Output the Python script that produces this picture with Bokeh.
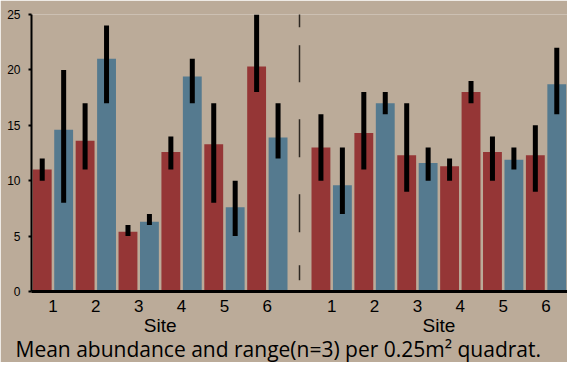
import numpy as np
from bokeh.plotting import figure
from bokeh.models import Range1d, FixedTicker, LinearAxis, Title, ColumnDataSource
from bokeh.embed import file_html
from bokeh.resources import INLINE

# ---------------- data ----------------
site_labels = ["1", "2", "3", "4", "5", "6"]

# left panel: two bars per site (red, blue)
left_series = ["red", "blue"] * 6
left_mean = [11.0, 14.6, 13.6, 21.0, 5.4, 6.3, 12.6, 19.4, 13.3, 7.6, 20.3, 13.9]
left_low = [10, 8, 11, 17, 5, 6, 11, 17, 8, 5, 18, 12]
left_high = [12, 20, 17, 24, 6, 7, 14, 21, 17, 10, 25, 17]

# right panel
right_series = ["red", "blue", "red", "blue", "red", "blue",
                "red", "red", "red", "blue", "red", "blue"]
right_mean = [13.0, 9.6, 14.3, 17.0, 12.3, 11.6, 11.3, 18.0, 12.6, 11.9, 12.3, 18.7]
right_low = [10, 7, 11, 16, 9, 10, 10, 17, 10, 11, 9, 16]
right_high = [16, 13, 18, 18, 17, 13, 12, 19, 14, 13, 15, 22]

y_ticks = [0, 5, 10, 15, 20, 25]
axis_title = "Site"
caption = "Mean abundance and range(n=3) per 0.25m\u00b2 quadrat."

# ---------------- styles ----------------
BG = "#bbab99"
COLORS = {"red": "#953636", "blue": "#557a8f"}

# slot positions: left bars in slots 0..11, gap slot 12, right bars 13..24
x_left = np.arange(12)
x_right = np.arange(13, 25)
xs = np.concatenate([x_left, x_right])

src = ColumnDataSource(dict(
    x=xs,
    top=left_mean + right_mean,
    low=left_low + right_low,
    high=left_high + right_high,
    color=[COLORS[s] for s in left_series + right_series],
))

p = figure(width=567, height=362, output_backend="svg", toolbar_location=None,
           x_range=Range1d(-0.5, 24.5), y_range=Range1d(0, 25),
           min_border_left=31, min_border_right=0, min_border_top=14,
           min_border_bottom=71,
           background_fill_color=BG, border_fill_color=BG,
           outline_line_color=None)
p.grid.visible = False

p.vbar(x="x", top="top", bottom=0, width=0.88, fill_color="color",
       line_color=None, source=src)
p.segment(x0="x", y0="low", x1="x", y1="high", line_color="black",
          line_width=5, line_cap="butt", source=src)

# dashed separator
p.segment(x0=[12], y0=[25.2], x1=[12], y1=[0.7], line_color="#2e2822",
          line_width=1.5, line_dash="15 18 37 37 38 37 38 33 15 60")

# x axis (site numbers)
pair_centers = [0.5, 2.5, 4.5, 6.5, 8.5, 10.5, 13.5, 15.5, 17.5, 19.5, 21.5, 23.5]
xa = p.xaxis[0]
xa.ticker = FixedTicker(ticks=pair_centers)
xa.major_label_overrides = {c: site_labels[i % 6] for i, c in enumerate(pair_centers)}
xa.major_tick_line_color = None
xa.major_tick_out = 0
xa.major_tick_in = 0
xa.minor_tick_line_color = None
xa.axis_line_width = 3
xa.axis_line_color = "black"
xa.major_label_text_font = "Liberation Sans"
xa.major_label_text_font_size = "17px"
xa.major_label_text_color = "black"
xa.major_label_standoff = 8

# y axis
ya = p.yaxis[0]
ya.ticker = FixedTicker(ticks=y_ticks)
ya.axis_line_width = 2
ya.axis_line_color = "black"
ya.major_tick_in = 0
ya.major_tick_out = 3
ya.major_tick_line_width = 2
ya.minor_tick_line_color = None
ya.major_label_text_font = "Liberation Sans"
ya.major_label_text_font_size = "12px"
ya.major_label_text_color = "black"
ya.major_label_standoff = 8

# "Site" labels row
site_axis = LinearAxis(ticker=FixedTicker(ticks=[5.5, 18.5]),
                       major_label_overrides={5.5: axis_title, 18.5: axis_title},
                       axis_line_color=None, major_tick_line_color=None,
                       major_tick_out=0, major_tick_in=0,
                       minor_tick_line_color=None,
                       major_label_text_font="Liberation Sans",
                       major_label_text_font_size="19px",
                       major_label_text_color="black",
                       major_label_standoff=0)
p.add_layout(site_axis, "below")

p.add_layout(Title(text=caption, align="left", offset=-16,
                   text_font="Open Sans", text_font_size="21px",
                   text_font_style="normal", text_color="black",
                   vertical_align="top", standoff=-8), "below")

open("out.html", "w").write(file_html(p, INLINE))
